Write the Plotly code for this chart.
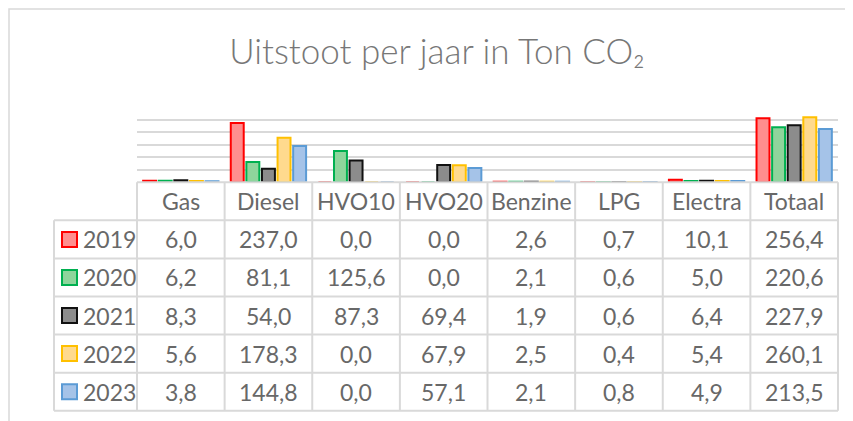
import plotly.graph_objects as go

# ---------------- data ----------------
categories = ["Gas", "Diesel", "HVO10", "HVO20", "Benzine", "LPG", "Electra", "Totaal"]
years = ["2019", "2020", "2021", "2022", "2023"]
v2019 = [6.0, 237.0, 0.0, 0.0, 2.6, 0.7, 10.1, 256.4]
v2020 = [6.2, 81.1, 125.6, 0.0, 2.1, 0.6, 5.0, 220.6]
v2021 = [8.3, 54.0, 87.3, 69.4, 1.9, 0.6, 6.4, 227.9]
v2022 = [5.6, 178.3, 0.0, 67.9, 2.5, 0.4, 5.4, 260.1]
v2023 = [3.8, 144.8, 0.0, 57.1, 2.1, 0.8, 4.9, 213.5]
series = [v2019, v2020, v2021, v2022, v2023]
title_text = "Uitstoot per jaar in Ton CO₂"

# ---------------- styles ----------------
fills = ["#FF8E8E", "#8FD59C", "#8C8C8C", "#FFDA8E", "#A5C3E8"]
edges = ["#FF0000", "#00B050", "#111111", "#FFC000", "#5B9BD5"]
GRID = "#D9D9D9"
TXT = "#686868"
FONT = "Lato"

# page body has an 8px margin; the figure starts at (8, 8) of the window
OFF = 8
W, H = 853 - OFF, 421 - OFF

def px(x):  # window x -> figure x
    return x - OFF

def py(y):
    return y - OFF

# pixel layout (window coordinates)
plot_left, plot_right = 137, 838
bar_top, bar_bottom = 107.3, 182.3
tab_bottom = 410.7
legend_left = 54
ncat = len(categories)
cw = (plot_right - plot_left) / ncat
nrows = len(years) + 1
rh = (tab_bottom - bar_bottom) / nrows
pad = 3

fig = go.Figure()
for yr, vals, f, e in zip(years, series, fills, edges):
    fig.add_trace(go.Bar(x=categories, y=vals, name=yr,
                         marker=dict(color=f, line=dict(color=e, width=2)),
                         showlegend=False, xaxis="x", yaxis="y"))

x2_lo = -0.5 - (plot_left - legend_left) / cw
x2_range = [x2_lo - pad / cw, ncat - 0.5 + pad / cw]
y2_range = [nrows - 0.5 + pad / rh, -0.5 - pad / rh]

shapes = []
lc = dict(color=GRID, width=2)
for k in range(nrows + 1):
    y = k - 0.5
    x0 = -0.5 if k == 0 else x2_lo
    shapes.append(dict(type="line", xref="x2", yref="y2", x0=x0, x1=ncat - 0.5, y0=y, y1=y, line=lc))
for i in range(ncat + 1):
    x = i - 0.5
    shapes.append(dict(type="line", xref="x2", yref="y2", x0=x, x1=x, y0=-0.5, y1=nrows - 0.5, line=lc))
shapes.append(dict(type="line", xref="x2", yref="y2", x0=x2_lo, x1=x2_lo, y0=0.5, y1=nrows - 0.5, line=lc))

tfont = dict(family=FONT, size=23, color=TXT)
annotations = []
for i, c in enumerate(categories):
    annotations.append(dict(x=i, y=0, xref="x2", yref="y2", text=c, showarrow=False, font=tfont))
sq = 7.5
for r, (yr, vals, f, e) in enumerate(zip(years, series, fills, edges), start=1):
    for i, v in enumerate(vals):
        annotations.append(dict(x=i, y=r, xref="x2", yref="y2",
                                text=f"{v:.1f}".replace(".", ","), showarrow=False, font=tfont))
    cx = x2_lo + (69.5 - legend_left) / cw
    shapes.append(dict(type="rect", xref="x2", yref="y2",
                       x0=cx - sq / cw, x1=cx + sq / cw, y0=r - sq / rh, y1=r + sq / rh,
                       fillcolor=f, line=dict(color=e, width=2)))
    annotations.append(dict(x=x2_lo + (81 - legend_left) / cw, y=r, xref="x2", yref="y2",
                            text=yr, showarrow=False, xanchor="left", font=tfont))

# outer chart frame (starts at the figure's top-left corner)
shapes.append(dict(type="rect", xref="paper", yref="paper",
                   x0=1 / W, x1=1.05, y0=-0.05, y1=1 - 1 / H,
                   line=dict(color=GRID, width=1.5), fillcolor="rgba(0,0,0,0)", layer="below"))

fig.update_layout(
    width=W, height=H, margin=dict(l=0, r=0, t=0, b=0),
    paper_bgcolor="white", plot_bgcolor="rgba(0,0,0,0)",
    barmode="group", bargap=0.11, bargroupgap=0.17,
    title=dict(text=title_text, x=px(437) / W, y=1 - py(52) / H, xanchor="center", yanchor="middle",
               font=dict(family=FONT, size=35, color="#777777", weight=300)),
    xaxis=dict(domain=[px(plot_left) / W, px(plot_right) / W], type="category", range=[-0.5, ncat - 0.5],
               showticklabels=False, ticks="", showgrid=False, zeroline=False, fixedrange=True),
    yaxis=dict(domain=[1 - py(bar_bottom) / H, 1 - py(bar_top) / H], range=[0, 300], dtick=50,
               showticklabels=False, ticks="", showgrid=True, gridcolor=GRID, gridwidth=2,
               zeroline=False),
    xaxis2=dict(domain=[px(legend_left - pad) / W, px(plot_right + pad) / W], range=x2_range,
                visible=False, anchor="y2"),
    yaxis2=dict(domain=[1 - py(tab_bottom + pad) / H, 1 - py(bar_bottom - pad) / H], range=y2_range,
                visible=False, anchor="x2"),
    shapes=shapes, annotations=annotations,
)
fig.write_html("out.html")
